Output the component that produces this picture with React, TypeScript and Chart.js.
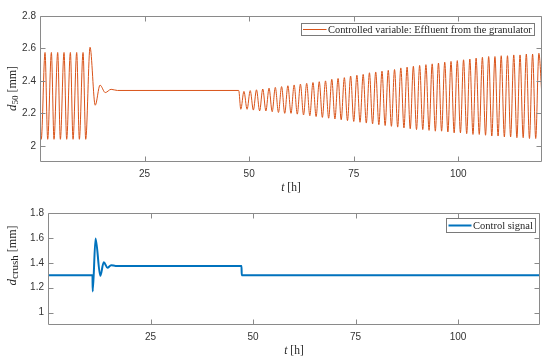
import React, { useEffect, useRef } from "react";
import { Chart, registerables } from "chart.js";

Chart.register(...registerables);

// ---------------- data ----------------
const xTickValues = [25, 50, 75, 100];
const topYTickValues = [2, 2.2, 2.4, 2.6, 2.8];
const bottomYTickValues = [1, 1.2, 1.4, 1.6, 1.8];

const topLegendLabel = "Controlled variable: Effluent from the granulator";
const bottomLegendLabel = "Control signal";

// Phase 1: sustained oscillation (extrema)
const osc1Times = [0, 0.3, 1.2, 1.84, 2.72, 3.35, 4.23, 4.87, 5.74, 6.38, 7.26, 7.9, 8.77, 9.41, 10.29, 10.93];
const osc1Values = [2.19, 2.04, 2.575, 2.04, 2.575, 2.04, 2.575, 2.04, 2.575, 2.04, 2.575, 2.04, 2.575, 2.04, 2.575, 2.04];

// Transient after control action and steady plateau
const transientTimes = [11.96, 13.2, 14.35, 15.6, 17.0, 18.5, 47.5];
const transientValues = [2.607, 2.25, 2.374, 2.328, 2.348, 2.341, 2.341];

// Phase 2: growing oscillation, one trough and one peak per cycle
const osc2FirstTrough = 48.0;
const oscPeriodH = 1.5;
const osc2Troughs = [
  2.225, 2.225, 2.22, 2.215, 2.215, 2.21, 2.205, 2.2, 2.2, 2.195,
  2.19, 2.185, 2.18, 2.175, 2.17, 2.165, 2.16, 2.155, 2.15, 2.145,
  2.14, 2.135, 2.13, 2.125, 2.12, 2.115, 2.11, 2.105, 2.1, 2.1,
  2.095, 2.09, 2.09, 2.085, 2.08, 2.08, 2.075, 2.07, 2.07, 2.065,
  2.06, 2.06, 2.055, 2.055, 2.05, 2.05, 2.045, 2.045,
];
const osc2Peaks = [
  2.335, 2.34, 2.345, 2.35, 2.355, 2.36, 2.365, 2.37, 2.375, 2.38,
  2.385, 2.39, 2.395, 2.4, 2.41, 2.415, 2.42, 2.43, 2.435, 2.44,
  2.45, 2.455, 2.46, 2.465, 2.47, 2.48, 2.485, 2.49, 2.495, 2.5,
  2.505, 2.51, 2.515, 2.52, 2.525, 2.53, 2.535, 2.54, 2.545, 2.55,
  2.55, 2.555, 2.555, 2.56, 2.56, 2.565, 2.565, 2.57,
];
const topEndTime = 120;
const topEndValue = 2.3;

// Control signal
const ctrlTimes = [0, 10.85, 10.9, 11.6, 12.75, 13.6, 14.5, 15.4, 16.5, 47.2, 47.25, 120];
const ctrlValues = [1.3, 1.3, 1.17, 1.595, 1.295, 1.405, 1.36, 1.38, 1.375, 1.375, 1.3, 1.3];

// ---------------- styling ----------------
const SERIF = "'Liberation Serif', 'Times New Roman', serif";
const SANS = "'Liberation Sans', Arial, Helvetica, sans-serif";
const ORANGE = "#D95319";
const BLUE = "#0072BD";
const AXIS_GRAY = "#8a8a8a";
const TEXT_DARK = "#262626";

type Part = { text: string; italic?: boolean; sub?: boolean; size?: number };

function partSize(p: Part, size: number) {
  return p.size ?? (p.sub ? size * 0.72 : size);
}

function partFont(p: Part, size: number) {
  return `${p.italic ? "italic " : ""}${partSize(p, size)}px ${SERIF}`;
}

function drawRich(ctx: CanvasRenderingContext2D, parts: Part[], size: number) {
  let total = 0;
  const widths = parts.map((p) => {
    ctx.font = partFont(p, size);
    const w = ctx.measureText(p.text).width;
    total += w;
    return w;
  });
  let x = -total / 2;
  ctx.textBaseline = "alphabetic";
  ctx.textAlign = "left";
  parts.forEach((p, i) => {
    ctx.font = partFont(p, size);
    ctx.fillText(p.text, x, p.sub ? size * 0.22 + size * 0.32 : size * 0.32);
    x += widths[i];
  });
}

const matlabPlugin = {
  id: "matlabDecor",
  afterDatasetsDraw(chart: any, _args: any, opts: any) {
    const { ctx, chartArea: a, scales } = chart;
    const L = Math.round(a.left) + 0.5;
    const R = Math.round(a.right) - 0.5;
    const T = Math.round(a.top) + 0.5;
    const B = Math.round(a.bottom) - 0.5;
    ctx.save();
    ctx.strokeStyle = AXIS_GRAY;
    ctx.lineWidth = 1;
    ctx.beginPath();
    ctx.rect(L, T, R - L, B - T);
    const tl = 5;
    xTickValues.forEach((v) => {
      const px = Math.round(scales.x.getPixelForValue(v)) + 0.5;
      ctx.moveTo(px, B);
      ctx.lineTo(px, B - tl);
      ctx.moveTo(px, T);
      ctx.lineTo(px, T + tl);
    });
    (opts.yTicks as number[]).forEach((v) => {
      const py = Math.round(scales.y.getPixelForValue(v)) + 0.5;
      ctx.moveTo(L, py);
      ctx.lineTo(L + tl, py);
      ctx.moveTo(R, py);
      ctx.lineTo(R - tl, py);
    });
    ctx.stroke();

    // legend
    const lg = opts.legend;
    ctx.fillStyle = "#ffffff";
    ctx.fillRect(lg.left, lg.top, lg.right - lg.left, lg.bottom - lg.top);
    ctx.strokeStyle = "#7a7a7a";
    ctx.strokeRect(lg.left + 0.5, lg.top + 0.5, lg.right - lg.left - 1, lg.bottom - lg.top - 1);
    const midY = (lg.top + lg.bottom) / 2;
    ctx.strokeStyle = lg.color;
    ctx.lineWidth = lg.lineWidth;
    ctx.beginPath();
    ctx.moveTo(lg.lineStart, midY);
    ctx.lineTo(lg.lineEnd, midY);
    ctx.stroke();
    ctx.font = `10px ${SERIF}`;
    const w10 = ctx.measureText(lg.label).width;
    const fs = (10 * lg.textWidth) / w10;
    ctx.font = `${fs}px ${SERIF}`;
    ctx.fillStyle = TEXT_DARK;
    ctx.textBaseline = "middle";
    ctx.textAlign = "left";
    ctx.fillText(lg.label, lg.textStart, midY + 0.5);

    // x title
    ctx.fillStyle = TEXT_DARK;
    ctx.save();
    ctx.translate((a.left + a.right) / 2, a.bottom + opts.xTitleOffset);
    drawRich(ctx, [{ text: "t", italic: true }, { text: " [h]" }], 11.5);
    ctx.restore();

    // y title
    ctx.save();
    ctx.translate(opts.yTitleX, opts.yTitleY);
    ctx.rotate(-Math.PI / 2);
    drawRich(ctx, opts.yTitleParts, 12);
    ctx.restore();
    ctx.restore();
  },
};

function setTicks(values: number[]) {
  return (scale: any) => {
    scale.ticks = values.map((v) => ({ value: v }));
  };
}

function buildTopPoints() {
  const pts: { x: number; y: number }[] = [];
  osc1Times.forEach((t, i) => pts.push({ x: t, y: osc1Values[i] }));
  transientTimes.forEach((t, i) => pts.push({ x: t, y: transientValues[i] }));
  for (let i = 0; i < osc2Troughs.length; i++) {
    pts.push({ x: osc2FirstTrough + i * oscPeriodH, y: osc2Troughs[i] });
    pts.push({ x: osc2FirstTrough + (i + 0.5) * oscPeriodH, y: osc2Peaks[i] });
  }
  pts.push({ x: topEndTime, y: topEndValue });
  return pts;
}

function buildCtrlPoints() {
  return ctrlTimes.map((t, i) => ({ x: t, y: ctrlValues[i] }));
}

function makeConfig(p: any) {
  return {
    type: "line",
    data: {
      datasets: [
        {
          label: p.label,
          data: p.points,
          borderColor: p.color,
          borderWidth: p.lineWidth,
          pointRadius: 0,
          fill: false,
          cubicInterpolationMode: "monotone",
        },
      ],
    },
    options: {
      animation: false,
      responsive: false,
      events: [],
      layout: { padding: p.padding },
      plugins: {
        legend: { display: false },
        tooltip: { enabled: false },
        matlabDecor: p.decor,
      },
      scales: {
        x: {
          type: "linear",
          min: 0,
          max: 120,
          grid: { display: false, drawTicks: false },
          border: { display: false },
          afterBuildTicks: setTicks(xTickValues),
          afterFit: (s: any) => {
            s.height = p.xHeight;
          },
          ticks: {
            padding: 6,
            color: "#333333",
            font: { family: SANS, size: 10 },
            maxRotation: 0,
            autoSkip: false,
          },
        },
        y: {
          type: "linear",
          min: p.yMin,
          max: p.yMax,
          grid: { display: false, drawTicks: false },
          border: { display: false },
          afterBuildTicks: setTicks(p.yTicks),
          afterFit: (s: any) => {
            s.width = p.yWidth;
          },
          ticks: {
            padding: 4,
            color: "#333333",
            font: { family: SANS, size: 10 },
            callback: (v: number) => String(Math.round(v * 10) / 10),
          },
        },
      },
    },
    plugins: [matlabPlugin],
  };
}

export default function App() {
  const topRef = useRef<HTMLCanvasElement>(null);
  const botRef = useRef<HTMLCanvasElement>(null);

  useEffect(() => {
    const top = new Chart(
      topRef.current as HTMLCanvasElement,
      makeConfig({
        label: topLegendLabel,
        points: buildTopPoints(),
        color: ORANGE,
        lineWidth: 1,
        padding: { left: 0, top: 16, right: 8, bottom: 0 },
        xHeight: 38,
        yWidth: 40,
        yMin: 1.9,
        yMax: 2.8,
        yTicks: topYTickValues,
        decor: {
          yTicks: topYTickValues,
          xTitleOffset: 25,
          yTitleX: 12,
          yTitleY: 88.5,
          yTitleParts: [{ text: "d", italic: true, size: 13 }, { text: "50", sub: true, size: 9 }, { text: " [mm]" }],
          legend: {
            left: 301, right: 535, top: 23, bottom: 36,
            lineStart: 303, lineEnd: 326.5, textStart: 328, textWidth: 204,
            color: ORANGE, lineWidth: 1, label: topLegendLabel,
          },
        },
      }) as any
    );
    const bot = new Chart(
      botRef.current as HTMLCanvasElement,
      makeConfig({
        label: bottomLegendLabel,
        points: buildCtrlPoints(),
        color: BLUE,
        lineWidth: 2,
        padding: { left: 0, top: 13, right: 10, bottom: 0 },
        xHeight: 36,
        yWidth: 48,
        yMin: 0.9,
        yMax: 1.8,
        yTicks: bottomYTickValues,
        decor: {
          yTicks: bottomYTickValues,
          xTitleOffset: 25,
          yTitleX: 12,
          yTitleY: 55.5,
          yTitleParts: [{ text: "d", italic: true, size: 13 }, { text: "crush", sub: true, size: 11 }, { text: " [mm]" }],
          legend: {
            left: 446, right: 536, top: 18, bottom: 33,
            lineStart: 448.5, lineEnd: 471.5, textStart: 473, textWidth: 60,
            color: BLUE, lineWidth: 2, label: bottomLegendLabel,
          },
        },
      }) as any
    );
    return () => {
      top.destroy();
      bot.destroy();
    };
  }, []);

  return (
    <div style={{ position: "absolute", left: 0, top: 0, width: 550, height: 361, background: "#fff" }}>
      <canvas ref={topRef} width={550} height={200} style={{ position: "absolute", left: 0, top: 0, display: "block" }} />
      <canvas ref={botRef} width={550} height={161} style={{ position: "absolute", left: 0, top: 200, display: "block" }} />
    </div>
  );
}
